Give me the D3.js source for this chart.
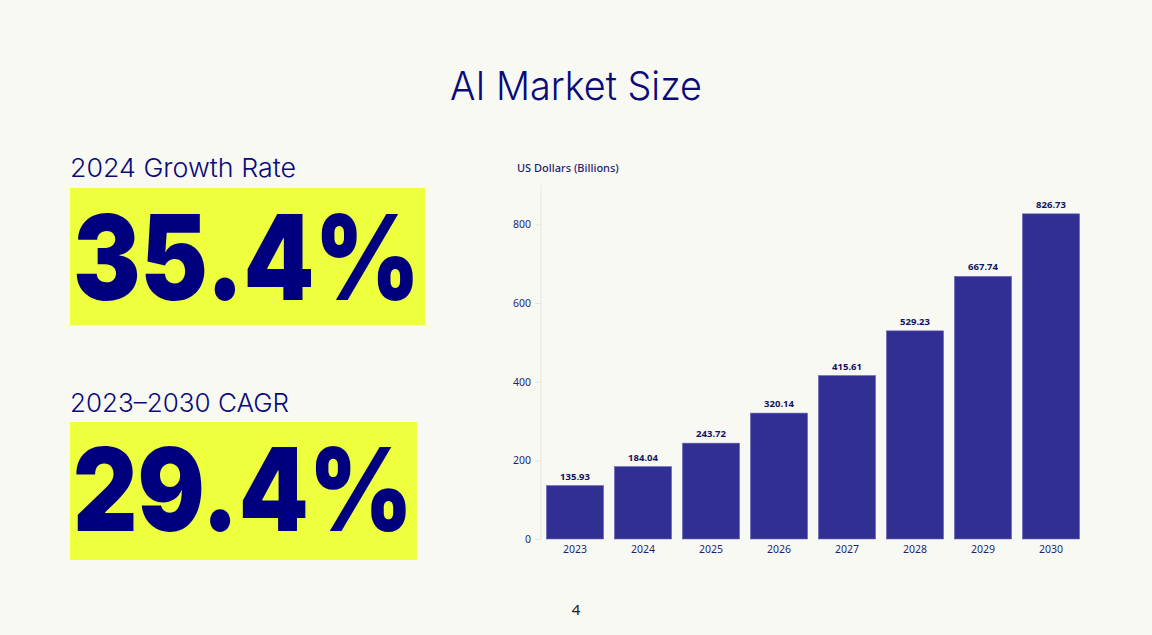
<!DOCTYPE html>
<html>
<head>
<meta charset="utf-8">
<script src="https://cdn.jsdelivr.net/npm/d3@7"></script>
<style>
  html, body { margin: 0; padding: 0; background: #f9f9f4; }
  svg { display: block; }
</style>
</head>
<body>
<div id="container"></div>
<script>
/* DATA */
const years = ["2023", "2024", "2025", "2026", "2027", "2028", "2029", "2030"];
const marketSize = [135.93, 184.04, 243.72, 320.14, 415.61, 529.23, 667.74, 826.73];
const yTicks = [0, 200, 400, 600, 800];
const statLabels = ["2024 Growth Rate", "2023\u20132030 CAGR"];
const statValues = ["35.4%", "29.4%"];

/* CONSTANTS */
const width = 1152;
const height = 635;
const navy = "#0a0a7a";
const barColor = "#312f91";
const yellow = "#eeff3e";

const svg = d3.select("#container")
  .append("svg")
  .attr("width", width)
  .attr("height", height);

svg.append("rect")
  .attr("width", width)
  .attr("height", height)
  .attr("fill", "#f9f9f4");

// title
svg.append("text")
  .attr("x", 576)
  .attr("y", 100)
  .attr("text-anchor", "middle")
  .attr("font-family", "Inter, Lato, sans-serif")
  .attr("font-weight", 300)
  .attr("font-size", 40)
  .attr("textLength", 252)
  .attr("lengthAdjust", "spacingAndGlyphs")
  .attr("fill", navy)
  .text("AI Market Size");

/* LEFT STATS */
const stats = [
  { label: statLabels[0], value: statValues[0], labelY: 177, boxY: 188, boxW: 355, boxH: 137, valY: 300, size: 118, labelW: 226, valW: 347 },
  { label: statLabels[1], value: statValues[1], labelY: 412, boxY: 422, boxW: 347, boxH: 138, valY: 531, size: 115, labelW: 219, valW: 340 }
];

const statG = svg.selectAll(".stat")
  .data(stats)
  .join("g")
  .attr("class", "stat");

statG.append("text")
  .attr("x", 70)
  .attr("y", d => d.labelY)
  .attr("font-family", "Inter, Lato, sans-serif")
  .attr("font-weight", 300)
  .attr("font-size", 26)
  .attr("textLength", d => d.labelW)
  .attr("lengthAdjust", "spacingAndGlyphs")
  .attr("fill", navy)
  .text(d => d.label);

statG.append("rect")
  .attr("x", 70)
  .attr("y", d => d.boxY)
  .attr("width", d => d.boxW)
  .attr("height", d => d.boxH)
  .attr("fill", yellow);

statG.append("text")
  .attr("x", 73)
  .attr("y", d => d.valY)
  .attr("font-family", "Inter, Lato, sans-serif")
  .attr("font-weight", 900)
  .attr("font-size", d => d.size)
  .attr("textLength", d => d.valW)
  .attr("lengthAdjust", "spacingAndGlyphs")
  .attr("fill", "#00007e")
  .text(d => d.value);

/* CHART */
const chart = { left: 541, right: 1085, top: 185, bottom: 539 };

const xScale = d3.scaleBand()
  .domain(years)
  .range([chart.left, chart.right])
  .paddingInner(0.16)
  .paddingOuter(0.08);

const yScale = d3.scaleLinear()
  .domain([0, 900])
  .range([chart.bottom, chart.top]);

svg.append("text")
  .attr("x", 517)
  .attr("y", 172)
  .attr("font-family", "'Noto Sans', sans-serif")
  .attr("font-size", 11)
  .attr("font-weight", 500)
  .attr("fill", "#1f1f6e")
  .text("US Dollars (Billions)");

const yAxis = d3.axisLeft(yScale)
  .tickValues(yTicks)
  .tickSize(6)
  .tickPadding(4);

const yG = svg.append("g")
  .attr("transform", `translate(${chart.left}, 0)`)
  .call(yAxis);

yG.select(".domain")
  .attr("stroke", "#e6e6e1")
  .attr("d", `M0,${chart.top}V${chart.bottom}`);
yG.selectAll(".tick line").attr("stroke", "#e6e6e1");
yG.selectAll(".tick text")
  .attr("font-family", "'Noto Sans', sans-serif")
  .attr("font-size", 10.5)
  .attr("fill", "#1f1f6e");

const xAxis = d3.axisBottom(xScale).tickSize(0).tickPadding(7);
const xG = svg.append("g")
  .attr("transform", `translate(0, ${chart.bottom})`)
  .call(xAxis);
xG.select(".domain").remove();
xG.selectAll(".tick text")
  .attr("font-family", "'Noto Sans', sans-serif")
  .attr("font-size", 10.5)
  .attr("fill", "#1f1f6e");

const data = years.map((y, i) => ({ year: y, value: marketSize[i] }));

svg.selectAll(".bar")
  .data(data)
  .join("rect")
  .attr("class", "bar")
  .attr("x", d => xScale(d.year))
  .attr("y", d => yScale(d.value))
  .attr("width", xScale.bandwidth())
  .attr("height", d => yScale(0) - yScale(d.value))
  .attr("fill", barColor)
  .attr("stroke", "#6b69b8")
  .attr("stroke-width", 0.6);

svg.selectAll(".val")
  .data(data)
  .join("text")
  .attr("class", "val")
  .attr("x", d => xScale(d.year) + xScale.bandwidth() / 2)
  .attr("y", d => yScale(d.value) - 6)
  .attr("text-anchor", "middle")
  .attr("font-family", "'Noto Sans', sans-serif")
  .attr("font-weight", 700)
  .attr("font-size", 9.5)
  .attr("fill", "#12125e")
  .text(d => d.value.toFixed(2));

// page number
svg.append("text")
  .attr("x", 576)
  .attr("y", 615)
  .attr("text-anchor", "middle")
  .attr("font-family", "'Noto Sans', sans-serif")
  .attr("font-size", 15)
  .attr("fill", "#222")
  .text("4");
</script>
</body>
</html>
